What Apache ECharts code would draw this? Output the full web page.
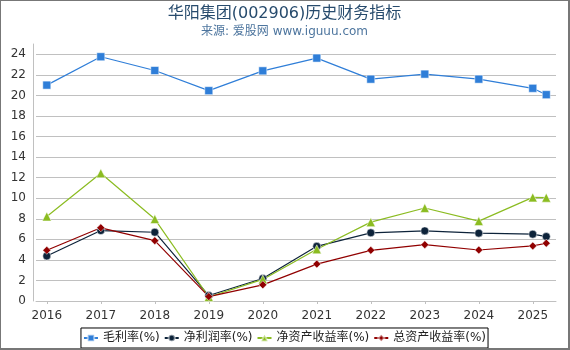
<!DOCTYPE html>
<html>
<head>
<meta charset="utf-8">
<script src="https://cdn.jsdelivr.net/npm/echarts@6/dist/echarts.min.js"></script>
<style>
  html, body { margin: 0; padding: 0; background: #fff; }
  #chart {
    width: 567px; height: 347px;
    border-top: 1px solid #777; border-left: 1px solid #777;
    border-right: 2px solid #777; border-bottom: 2px solid #777;
  }
</style>
</head>
<body>
<div id="chart"></div>
<script>
// x positions: fiscal years plus the latest quarter
const xs = [2016, 2017, 2018, 2019, 2020, 2021, 2022, 2023, 2024, 2025, 2025.25];
const yearTicks = [2016, 2017, 2018, 2019, 2020, 2021, 2022, 2023, 2024, 2025];
const yTicks = [0, 2, 4, 6, 8, 10, 12, 14, 16, 18, 20, 22, 24];

const grossMargin = [21.0, 23.76, 22.42, 20.46, 22.39, 23.63, 21.58, 22.07, 21.58, 20.69, 20.07];
const netMargin = [4.38, 6.85, 6.69, 0.53, 2.19, 5.32, 6.63, 6.82, 6.6, 6.5, 6.27];
const roe = [8.22, 12.43, 7.97, 0.39, 2.1, 5.03, 7.67, 9.05, 7.77, 10.08, 10.05];
const roa = [4.93, 7.12, 5.87, 0.43, 1.57, 3.59, 4.93, 5.48, 4.96, 5.36, 5.62];

const names = ['毛利率(%)', '净利润率(%)', '净资产收益率(%)', '总资产收益率(%)'];
const colors = ['#2f7ed8', '#0d233a', '#8bbc21', '#910000'];
const symbols = ['rect', 'circle', 'triangle', 'diamond'];
const symbolSizes = [8, 8, 9, 8];

const pair = arr => arr.map((v, i) => [xs[i], v]);
const allData = [grossMargin, netMargin, roe, roa];

const chart = echarts.init(document.getElementById('chart'));

const series = allData.map((arr, i) => ({
  name: names[i],
  type: 'line',
  data: pair(arr),
  symbol: symbols[i],
  symbolSize: symbolSizes[i],
  showAllSymbol: true,
  lineStyle: { width: 1.2, color: colors[i] },
  itemStyle: { color: colors[i], borderColor: 'rgba(255,255,255,0.5)', borderWidth: 1 },
  emphasis: { disabled: true },
}));

chart.setOption({
  animation: false,
  textStyle: { fontFamily: 'DejaVu Sans, Noto Sans CJK SC, sans-serif' },
  title: {
    text: '华阳集团(002906)历史财务指标',
    subtext: '来源: 爱股网 www.iguuu.com',
    left: 'center',
    top: 0,
    itemGap: 4,
    textStyle: { fontSize: 16, fontWeight: 'normal', color: '#274b6d' },
    subtextStyle: { fontSize: 12, color: '#4d759e' },
  },
  legend: {
    data: names,
    bottom: 0,
    left: 'center',
    itemWidth: 14,
    itemHeight: 8,
    itemGap: 4,
    padding: [4, 2],
    borderColor: '#000',
    borderWidth: 1,
    textStyle: { fontSize: 12, color: '#222' },
  },
  grid: { left: 35, right: 12, top: 43, bottom: 47 },
  xAxis: {
    type: 'value',
    min: 2015.8,
    max: 2025.43,
    offset: 4,
    splitLine: { show: false },
    axisLine: { lineStyle: { color: '#c0c0c0' } },
    axisTick: { show: true, length: 3, customValues: yearTicks, lineStyle: { color: '#c0c0c0' } },
    axisLabel: { customValues: yearTicks, margin: 5, fontSize: 12, color: '#333', formatter: v => String(v) },
  },
  yAxis: {
    type: 'value',
    min: 0,
    max: 25,
    offset: 3,
    axisLine: { show: true, lineStyle: { color: '#c0c0c0' } },
    axisTick: { show: false, customValues: yTicks },
    axisLabel: { customValues: yTicks, margin: 7, fontSize: 12, color: '#333' },
    splitLine: { show: true, lineStyle: { color: '#c0c0c0' } },
  },
  series: series,
});
</script>
</body>
</html>
